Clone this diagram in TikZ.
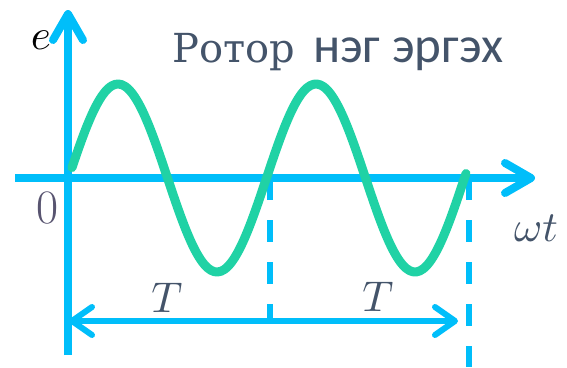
\documentclass[tikz,border=0pt]{standalone}
\usepackage{fontspec}
\usetikzlibrary{arrows.meta}
\newfontfamily\carl{Carlito}
\newfontfamily\serifcyr{DejaVu Serif}
\definecolor{axisc}{RGB}{0,190,250}
\definecolor{curvec}{RGB}{32,210,165}
\definecolor{txtc}{RGB}{68,84,106}
\definecolor{zeroc}{RGB}{88,84,112}
\begin{document}
\begin{tikzpicture}[x=1pt,y=-1pt,
  axisline/.style={draw=axisc,line width=8pt},
  barbA/.style={-{Straight Barb[length=26pt,width=30pt,round]}},
  tline/.style={draw=axisc,line width=6pt,{Straight Barb[length=20pt,width=28pt,round]}-{Straight Barb[length=20pt,width=28pt,round]}},
  dashline/.style={draw=axisc,line width=6pt,dash pattern=on 22pt off 20pt},
  wave/.style={draw=curvec,line width=9pt,line cap=round,line join=round},
  lbl/.style={inner sep=0pt,text=txtc},
  mathlbl/.style={inner sep=0pt,scale=4.3}]
\useasboundingbox (0,0) rectangle (567,367);
\coordinate (ybot) at (68,355);
\coordinate (ytop) at (68,10);
\coordinate (xleft) at (15,178);
\coordinate (xright) at (535,178);
\coordinate (d1top) at (270,178);
\coordinate (d1bot) at (270,321);
\coordinate (d2top) at (469,178);
\coordinate (d2bot) at (469,367);
\coordinate (tl) at (69,321);
\coordinate (tr) at (458,321);
\draw[dashline] (d1top) -- (d1bot);
\draw[dashline] (d2top) -- (d2bot);
\draw[axisline,barbA] (ybot) -- (ytop);
\draw[axisline,barbA] (xleft) -- (xright);
\draw[tline] (tl) -- (tr);
\draw[wave] plot[domain=72:466,samples=120,smooth] (\x,{178-94*sin(1.818182*(\x-68.5))});
\node[lbl,anchor=base west] (title) at (172,62) {{\fontsize{40}{40}\selectfont\serifcyr Ротор}\hspace{18pt}{\fontsize{51}{51}\selectfont\carl нэг эргэх}};
\node[mathlbl,text=black] (elab) at (41,40) {$e$};
\node[inner sep=0pt,text=zeroc] (zero) at (48,208) {\fontsize{48}{48}\selectfont 0};
\node[mathlbl,text=txtc] (T1) at (167,298) {$T$};
\node[mathlbl,text=txtc] (T2) at (378,297) {$T$};
\node[mathlbl,text=txtc] (wt) at (536,228) {$\omega t$};
\end{tikzpicture}
\end{document}
